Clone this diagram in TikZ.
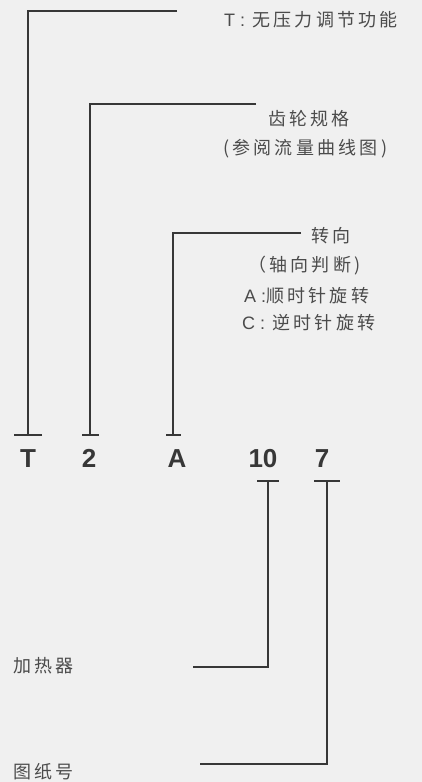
\documentclass[tikz,border=0pt]{standalone}
\usepackage{fontspec}
\setmainfont{Liberation Sans}
\newfontfamily\cjk[LetterSpace=18]{Noto Sans CJK SC}
\usetikzlibrary{positioning, arrows.meta}
\definecolor{leadGray}{RGB}{55, 55, 55}
\definecolor{textGray}{RGB}{75, 75, 75}
\definecolor{paper}{RGB}{240, 240, 240}

\begin{document}
\begin{tikzpicture}[x=1pt, y=-1pt,
    code/.style={font=\fontsize{26}{26}\selectfont\bfseries, text=leadGray, inner sep=0pt,
        text height=18.7pt, text depth=0pt, outer sep=12.5pt},
    note/.style={font=\fontsize{18}{18}\selectfont\cjk, text=textGray, inner sep=0pt, anchor=west},
    lead/.style={line width=2pt, leadGray}]
    \fill[paper] (0,0) rectangle (422,782);

    % model code
    \node[code] (cT) at (28,458) {T};
    \node[code] (c2) at (89,458) {2};
    \node[code] (cA) at (177,458) {A};
    \node[code] (c10) at (263,458) {10};
    \node[code] (c7) at (322,458) {7};

    % explanations
    \node[note] (lT) at (224,19.5) {{\rmfamily T :} 无压力调节功能};
    \node[note] (lGear) at (268,119) {齿轮规格};
    \node[note] (lGearRef) at (223,149) {(参阅流量曲线图)};
    \node[note] (lDir) at (311,236) {转向};
    \node[note] (lDirAxis) at (248,266) {（轴向判断)};
    \node[note] (lDirA) at (244,296) {{\rmfamily A :}顺时针旋转};
    \node[note] (lDirC) at (242,323) {{\rmfamily C :} 逆时针旋转};
    \node[note] (lHeat) at (13,666) {加热器};
    \node[note] (lDraw) at (13,772) {图纸号};

    % leader ends
    \coordinate (eT) at (177,10.5);
    \coordinate (eGear) at (256,104);
    \coordinate (eDir) at (301,233);
    \coordinate (eHeat) at (193,667);
    \coordinate (eDraw) at (200,764);

    \draw[lead, -{Bar[width=28pt]}] (eT) -| (cT.north);
    \draw[lead, -{Bar[width=17pt]}] (eGear) -| ([xshift=1pt]c2.north);
    \draw[lead, -{Bar[width=15pt]}] (eDir) -| ([xshift=-4pt]cA.north);
    \draw[lead, -{Bar[width=22pt]}] (eHeat) -| ([xshift=5pt]c10.south);
    \draw[lead, -{Bar[width=26pt]}] (eDraw) -| ([xshift=5pt]c7.south);
\end{tikzpicture}
\end{document}
